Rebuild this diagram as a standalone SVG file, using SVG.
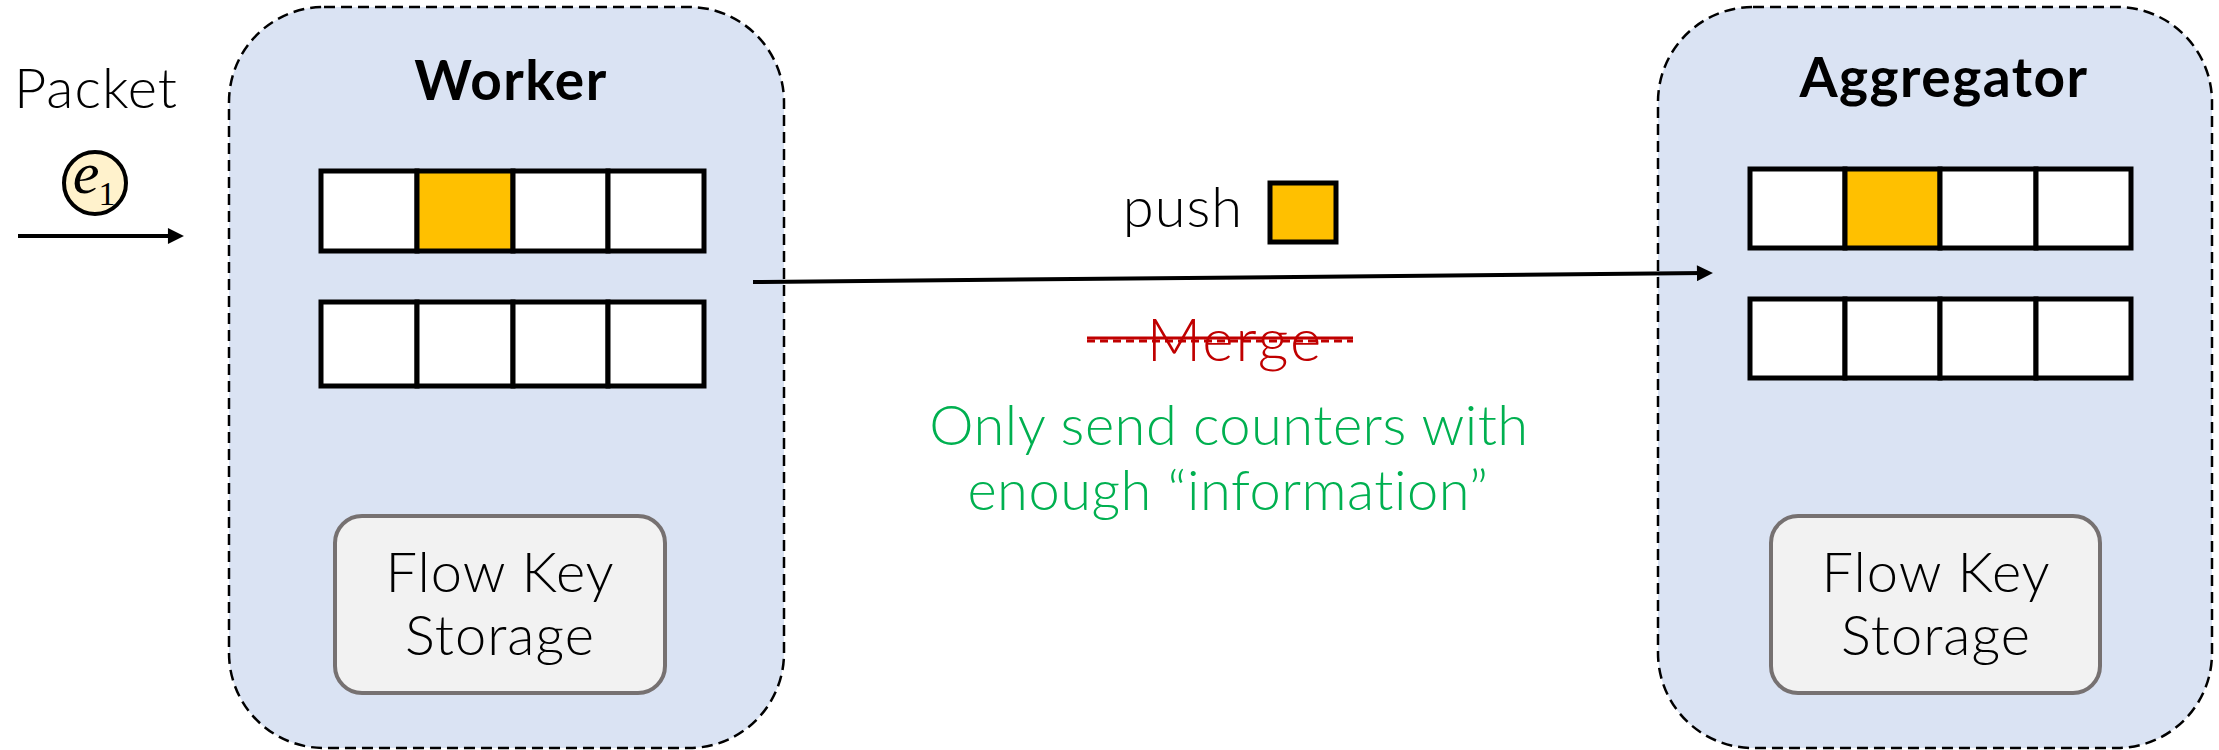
<svg xmlns="http://www.w3.org/2000/svg" width="2219" height="750" viewBox="0 0 2219 750">
  <style>
    .panel { fill: #DAE3F3; stroke: #000; stroke-width: 2.5; stroke-dasharray: 11 6; }
    .cell { fill: #FFFFFF; stroke: #000; stroke-width: 5; }
    .hot { fill: #FFC000; }
    .store { fill: #F2F2F2; stroke: #767171; stroke-width: 4; }
    .title { font-family: Lato, "Liberation Sans", sans-serif; font-weight: 700; font-size: 55px; letter-spacing: 1.5px; fill: #000; text-anchor: middle; }
    .label { font-family: Lato, "Liberation Sans", sans-serif; font-weight: 300; font-size: 56px; letter-spacing: 1px; fill: #000; text-anchor: middle; }
    .edge { stroke: #000; stroke-width: 4; fill: none; }
  </style>
  <defs>
    <marker id="arrow" viewBox="0 0 10 10" markerUnits="userSpaceOnUse" markerWidth="18" markerHeight="16" refX="4.4" refY="5" orient="auto">
      <path d="M0,0 L10,5 L0,10 z" fill="#000"/>
    </marker>
  </defs>

  <rect width="2219" height="750" fill="#FFFFFF"/>

  <!-- incoming packet -->
  <g id="packet">
    <text class="label" x="96" y="108">Packet</text>
    <circle cx="95" cy="183" r="31" fill="#FFF2CC" stroke="#000" stroke-width="4"/>
    <text x="86" y="193" font-family="'Liberation Serif', serif" font-style="italic" font-size="60" text-anchor="middle">e</text>
    <text x="107" y="205" font-family="'Liberation Serif', serif" font-size="34" text-anchor="middle">1</text>
  </g>

  <!-- worker node -->
  <g id="worker">
    <rect class="panel" x="229" y="7" width="555" height="741" rx="95" ry="95"/>
    <text class="title" x="511" y="100">Worker</text>
    <g id="worker-row1">
      <rect class="cell" x="321" y="171" width="96" height="80"/>
      <rect class="cell hot" x="417" y="171" width="96" height="80"/>
      <rect class="cell" x="513" y="171" width="95" height="80"/>
      <rect class="cell" x="608" y="171" width="96" height="80"/>
    </g>
    <g id="worker-row2">
      <rect class="cell" x="321" y="302" width="96" height="84"/>
      <rect class="cell" x="417" y="302" width="96" height="84"/>
      <rect class="cell" x="513" y="302" width="95" height="84"/>
      <rect class="cell" x="608" y="302" width="96" height="84"/>
    </g>
    <rect class="store" x="335" y="516" width="330" height="177" rx="27" ry="27"/>
    <text class="label" x="500" y="592">Flow Key</text>
    <text class="label" x="500" y="655">Storage</text>
  </g>

  <!-- aggregator node -->
  <g id="aggregator">
    <rect class="panel" x="1658" y="7" width="554" height="741" rx="95" ry="95"/>
    <text class="title" x="1944" y="97">Aggregator</text>
    <g id="aggregator-row1">
      <rect class="cell" x="1750" y="169" width="95" height="79"/>
      <rect class="cell hot" x="1845" y="169" width="95" height="79"/>
      <rect class="cell" x="1940" y="169" width="96" height="79"/>
      <rect class="cell" x="2036" y="169" width="95" height="79"/>
    </g>
    <g id="aggregator-row2">
      <rect class="cell" x="1750" y="299" width="95" height="79"/>
      <rect class="cell" x="1845" y="299" width="95" height="79"/>
      <rect class="cell" x="1940" y="299" width="96" height="79"/>
      <rect class="cell" x="2036" y="299" width="95" height="79"/>
    </g>
    <rect class="store" x="1771" y="516" width="329" height="177" rx="27" ry="27"/>
    <text class="label" x="1936" y="592">Flow Key</text>
    <text class="label" x="1936" y="655">Storage</text>
  </g>

  <!-- connectors -->
  <g id="connectors">
    <line class="edge" x1="18" y1="236" x2="175" y2="236" marker-end="url(#arrow)"/>
    <line class="edge" x1="753" y1="282" x2="1704" y2="273.1" marker-end="url(#arrow)"/>
  </g>

  <!-- edge annotations -->
  <g id="push-label">
    <text class="label" x="1183" y="227">push</text>
    <rect x="1270" y="183" width="66" height="59" fill="#FFC000" stroke="#000" stroke-width="5"/>
  </g>
  <g id="merge-label">
    <text x="1235" y="361" font-family="Lato, 'Liberation Sans', sans-serif" font-weight="300" font-size="60" letter-spacing="2" fill="#C00000" text-anchor="middle">Merge</text>
    <line x1="1087" y1="338" x2="1353" y2="338" stroke="#C00000" stroke-width="3"/>
    <line x1="1087" y1="341" x2="1353" y2="341" stroke="#C00000" stroke-width="3" stroke-dasharray="8 5"/>
  </g>
  <g id="note" font-family="Lato, 'Liberation Sans', sans-serif" font-weight="300" font-size="56" letter-spacing="0.5" fill="#00B050" text-anchor="middle">
    <text x="1229" y="445">Only send counters with</text>
    <text x="1228" y="510">enough “information”</text>
  </g>
</svg>
